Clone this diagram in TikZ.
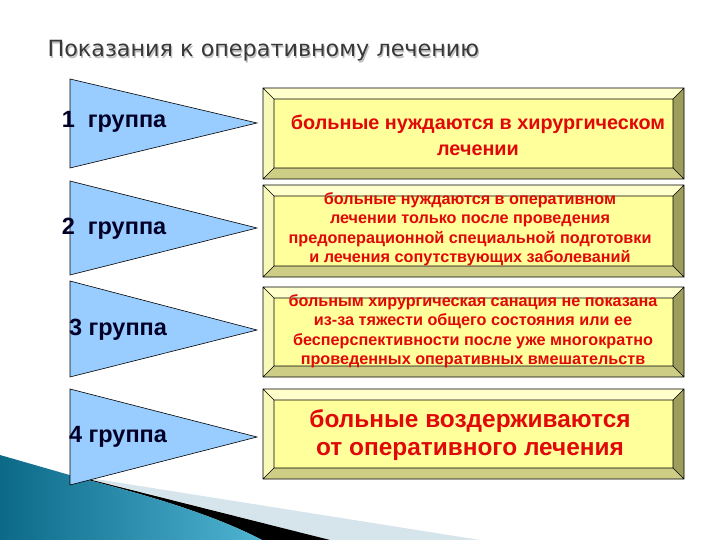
\documentclass[tikz,border=0pt]{standalone}
\usepackage{fontspec}
\setmainfont{Liberation Sans}
\newfontfamily\titlefont{DejaVu Sans}
\definecolor{flagblue}{HTML}{99CCFF}
\definecolor{facey}{HTML}{FFFF9C}
\definecolor{toply}{HTML}{FFFFCC}
\definecolor{leftly}{HTML}{F8F8B8}
\definecolor{boty}{HTML}{CDCD85}
\definecolor{righty}{HTML}{9E9E5C}
\definecolor{txtred}{HTML}{E00808}
\definecolor{tealdk}{HTML}{0C6A88}
\definecolor{teallt}{HTML}{4FB3D2}
\definecolor{paleband}{HTML}{D6E4EC}

% bevelled yellow box: \bevelbox{top}{bottom}
\newcommand{\bevelbox}[2]{%
  \fill[toply] (263,#1) -- (684,#1) -- (673,#1+11) -- (274,#1+11) -- cycle;
  \fill[leftly] (263,#1) -- (274,#1+11) -- (274,#2-11) -- (263,#2) -- cycle;
  \fill[boty] (263,#2) -- (274,#2-11) -- (673,#2-11) -- (684,#2) -- cycle;
  \fill[righty] (684,#1) -- (684,#2) -- (673,#2-11) -- (673,#1+11) -- cycle;
  \fill[facey] (274,#1+11) rectangle (673,#2-11);
  \draw[black,line width=0.6pt] (263,#1) rectangle (684,#2) (274,#1+11) rectangle (673,#2-11)
    (263,#1) -- (274,#1+11) (684,#1) -- (673,#1+11) (263,#2) -- (274,#2-11) (684,#2) -- (673,#2-11);}

\begin{document}
\begin{tikzpicture}[x=1pt,y=-1pt,
  grp/.style={font=\bfseries\fontsize{23.5}{28}\selectfont, text=black!85!blue},
  flag/.style={draw=black, line width=0.6pt, fill=flagblue},
  heading/.style={anchor=base west, font=\titlefont\fontsize{22.3}{26}\selectfont},
  note/.style 2 args={text=txtred, align=center, font=\bfseries\fontsize{#1}{#2}\selectfont}]
  \useasboundingbox (0,0) rectangle (720,540);

  % bottom left corner decoration
  \fill[paleband] (83,477) -- (480,540) -- (330,540) -- cycle;
  \fill[black] (80,477) -- (330,540) -- (262,540) .. controls (220,518) and (160,498) .. (80,478) -- cycle;
  \shade[left color=tealdk, right color=teallt] (0,455) .. controls (40,466) .. (80,478)
    .. controls (160,498) and (220,518) .. (262,540) -- (0,540) -- cycle;

  \node[heading, text=black!25] (titleshadow) at (45.2,58.2) {Показания к оперативному лечению};
  \node[heading, text=black!78] (title) at (44,57) {Показания к оперативному лечению};

  % flags
  \foreach \t/\m/\b in {79/123/168, 181/228/275, 281/330/377, 389/437/485}{
    \draw[flag] (70,\t) -- (257,\m) -- (70,\b) -- cycle;}
  \node[grp] (g1) at (114,122) {1~~группа};
  \node[grp] (g2) at (114,229) {2~~группа};
  \node[grp] (g3) at (118,330) {3 группа};
  \node[grp] (g4) at (118,437) {4 группа};

  % boxes
  \bevelbox{88}{179}
  \bevelbox{185}{277}
  \bevelbox{287}{377}
  \bevelbox{389}{479}
  \node[note={19.8}{26}] (b1) at (478,135) {больные нуждаются в хирургическом\\лечении};
  \node[note={16.2}{19.5}] (b2) at (470,229) {больные нуждаются в оперативном\\лечении только после проведения\\предоперационной специальной подготовки\\и лечения сопутствующих заболеваний};
  \node[note={16.2}{19.5}] (b3) at (473,331) {больным хирургическая санация не показана\\из-за тяжести общего состояния или ее\\бесперспективности после уже многократно\\проведенных оперативных вмешательств};
  \node[note={24.4}{28}] (b4) at (470,435) {больные воздерживаются\\от оперативного лечения};
\end{tikzpicture}
\end{document}
